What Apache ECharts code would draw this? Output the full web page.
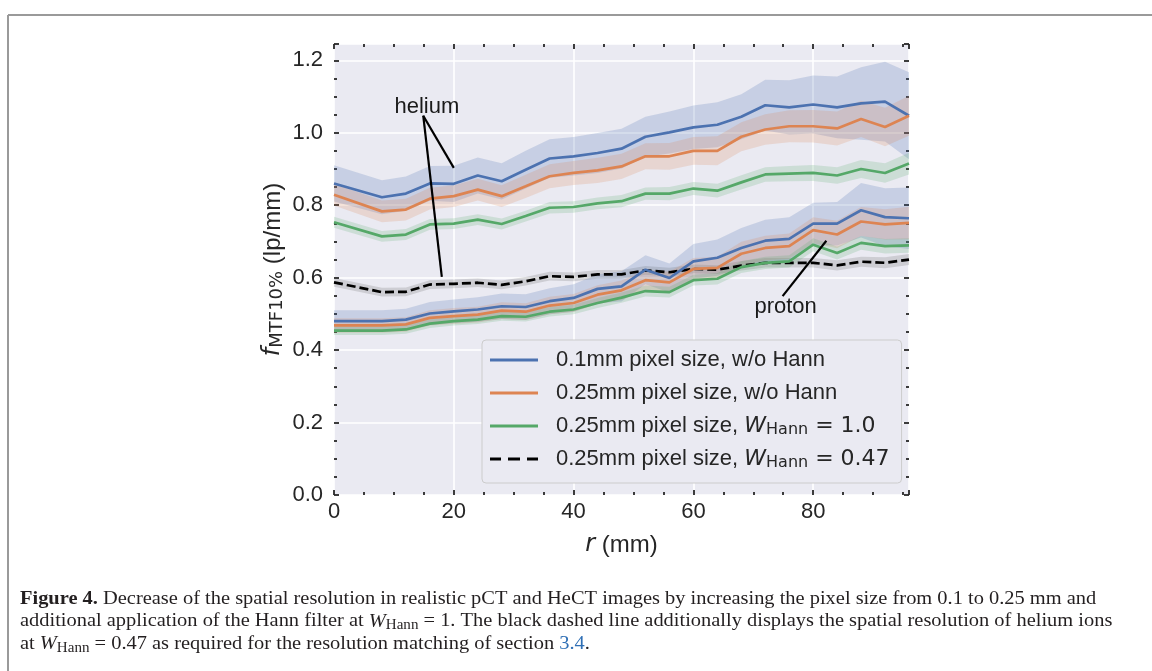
<!DOCTYPE html>
<html>
<head>
<meta charset="utf-8">
<script src="https://cdn.jsdelivr.net/npm/echarts@6/dist/echarts.min.js"></script>
<style>
  html, body { margin: 0; padding: 0; background: #fff; }
  #chart { width: 1152px; height: 671px; }
</style>
</head>
<body>
<div id="chart"></div>
<script>
// radial position (mm)
const r = [0, 8, 12, 16, 20, 24, 28, 32, 36, 40, 44, 48, 52, 56, 60, 64, 68, 72, 76, 80, 84, 88, 92, 96];

// helium
const heBlue = [0.860, 0.822, 0.832, 0.860, 0.859, 0.882, 0.866, 0.898, 0.929, 0.935, 0.944, 0.956, 0.989, 1.001, 1.015, 1.022, 1.044, 1.076, 1.070, 1.078, 1.070, 1.081, 1.086, 1.047];
const heBlueErr = [0.050, 0.047, 0.047, 0.048, 0.050, 0.050, 0.050, 0.052, 0.053, 0.053, 0.055, 0.055, 0.055, 0.058, 0.060, 0.062, 0.062, 0.070, 0.075, 0.080, 0.085, 0.100, 0.110, 0.120];
const heOrange = [0.829, 0.783, 0.788, 0.818, 0.825, 0.843, 0.825, 0.852, 0.880, 0.889, 0.896, 0.907, 0.935, 0.935, 0.950, 0.950, 0.989, 1.009, 1.018, 1.018, 1.012, 1.038, 1.016, 1.047];
const heOrangeErr = [0.030, 0.030, 0.030, 0.030, 0.030, 0.030, 0.030, 0.032, 0.033, 0.033, 0.035, 0.035, 0.036, 0.037, 0.038, 0.040, 0.040, 0.042, 0.044, 0.045, 0.047, 0.050, 0.053, 0.055];
const heGreen = [0.753, 0.714, 0.719, 0.747, 0.749, 0.760, 0.748, 0.770, 0.793, 0.795, 0.805, 0.811, 0.832, 0.832, 0.846, 0.840, 0.863, 0.885, 0.887, 0.889, 0.882, 0.900, 0.889, 0.915];
const heGreenErr = [0.015, 0.015, 0.015, 0.015, 0.015, 0.015, 0.015, 0.015, 0.016, 0.016, 0.016, 0.017, 0.017, 0.018, 0.018, 0.019, 0.020, 0.020, 0.021, 0.022, 0.023, 0.025, 0.027, 0.030];
const heHann047 = [0.587, 0.560, 0.561, 0.581, 0.583, 0.586, 0.580, 0.590, 0.604, 0.602, 0.609, 0.609, 0.620, 0.615, 0.624, 0.622, 0.633, 0.641, 0.641, 0.641, 0.634, 0.644, 0.641, 0.650];
const heHann047Err = [0.012, 0.012, 0.012, 0.012, 0.012, 0.012, 0.012, 0.012, 0.012, 0.012, 0.012, 0.012, 0.012, 0.012, 0.012, 0.012, 0.013, 0.013, 0.013, 0.013, 0.014, 0.014, 0.015, 0.015];

// proton
const pBlue = [0.480, 0.480, 0.484, 0.501, 0.507, 0.512, 0.521, 0.519, 0.535, 0.544, 0.569, 0.576, 0.622, 0.599, 0.645, 0.655, 0.682, 0.702, 0.707, 0.749, 0.749, 0.786, 0.767, 0.764];
const pBlueErr = [0.030, 0.030, 0.030, 0.032, 0.033, 0.034, 0.035, 0.035, 0.036, 0.038, 0.040, 0.042, 0.040, 0.040, 0.048, 0.050, 0.055, 0.058, 0.060, 0.058, 0.060, 0.075, 0.080, 0.085];
const pOrange = [0.468, 0.468, 0.471, 0.489, 0.494, 0.498, 0.509, 0.506, 0.523, 0.530, 0.553, 0.565, 0.593, 0.587, 0.624, 0.627, 0.666, 0.682, 0.687, 0.731, 0.719, 0.755, 0.747, 0.751];
const pOrangeErr = [0.020, 0.020, 0.020, 0.021, 0.022, 0.022, 0.023, 0.023, 0.024, 0.025, 0.026, 0.027, 0.028, 0.029, 0.030, 0.031, 0.033, 0.034, 0.035, 0.036, 0.038, 0.040, 0.042, 0.045];
const pGreen = [0.454, 0.454, 0.457, 0.473, 0.480, 0.484, 0.494, 0.492, 0.506, 0.512, 0.530, 0.545, 0.563, 0.560, 0.593, 0.597, 0.629, 0.641, 0.645, 0.691, 0.668, 0.696, 0.687, 0.689];
const pGreenErr = [0.012, 0.012, 0.012, 0.012, 0.012, 0.012, 0.013, 0.013, 0.013, 0.013, 0.014, 0.014, 0.015, 0.015, 0.015, 0.016, 0.016, 0.017, 0.017, 0.018, 0.018, 0.019, 0.020, 0.020];

const names = [
  "0.1mm pixel size, w/o Hann",
  "0.25mm pixel size, w/o Hann",
  "0.25mm pixel size, W_Hann = 1.0",
  "0.25mm pixel size, W_Hann = 0.47",
];

// annotation anchors in data coordinates
const heliumText = [15.5, 1.07];
const heliumFrom = [14.9, 1.047];
const heliumTips = [[20, 0.903], [18, 0.602]];
const protonText = [75.4, 0.52];
const protonFrom = [74.9, 0.549];
const protonTip = [82.2, 0.702];

const SANS = "'Liberation Sans', Arial, sans-serif";
const MATH = "'DejaVu Sans', sans-serif";
const SERIF = "'Liberation Serif', 'Times New Roman', serif";
const INK = "#262626";

const chart = echarts.init(document.getElementById("chart"));

function band(vals, errs, fill) {
  return {
    type: "custom",
    silent: true,
    z: 1,
    data: r.map((x, i) => [x, vals[i] - errs[i], vals[i] + errs[i]]),
    encode: { x: 0, y: [1, 2] },
    renderItem: (params, api) => {
      if (params.dataIndex !== 0) return;
      const up = r.map((x, i) => api.coord([x, vals[i] + errs[i]]));
      const lo = r.map((x, i) => api.coord([x, vals[i] - errs[i]])).reverse();
      return { type: "polygon", shape: { points: up.concat(lo) }, style: { fill: fill } };
    },
  };
}

function line(name, vals, color, dashed) {
  return {
    type: "line",
    name: name,
    data: r.map((x, i) => [x, vals[i]]),
    symbol: "none",
    z: 3,
    lineStyle: { color: color, width: 2.7, type: dashed ? [9, 4] : "solid" },
    itemStyle: { color: color },
    emphasis: { disabled: true },
  };
}

function arrow(from, to) {
  return {
    type: "line",
    data: [from, to],
    symbol: "none",
    silent: true,
    z: 5,
    lineStyle: { color: "#000", width: 2.2 },
  };
}

function note(pos, text) {
  return {
    type: "scatter",
    data: [pos],
    symbolSize: 2,
    silent: true,
    z: 6,
    itemStyle: { color: "transparent" },
    label: {
      show: true, position: "inside", formatter: text,
      fontSize: 22, color: "#1a1a1a", fontFamily: SANS,
      textBorderWidth: 0, opacity: 1,
    },
  };
}

const blue = "#4C72B0", orange = "#DD8452", green = "#55A868";

const legendLabels = {};
legendLabels[names[0]] = names[0];
legendLabels[names[1]] = names[1];
legendLabels[names[2]] = "0.25mm pixel size, {i|W}{s|Hann}{m| = 1.0}";
legendLabels[names[3]] = "0.25mm pixel size, {i|W}{s|Hann}{m| = 0.47}";

const solidIcon = "path://M0,0h48v3h-48z";
const dashIcon = "path://M0,0h11v3h-11z M18,0h12v3h-12z M37,0h11v3h-11z";

const tickStyle = { color: INK, width: 1.8 };

function frameAxis(extra) {
  return Object.assign({
    type: "value",
    axisLine: { show: false, onZero: false },
    axisTick: { show: true, inside: true, length: 5, lineStyle: tickStyle },
    minorTick: { show: true, splitNumber: 4, length: 3, lineStyle: tickStyle },
    splitLine: { show: false },
    axisLabel: { show: false },
  }, extra);
}

const option = {
  animation: false,
  grid: {
    left: 334, right: 243, top: 44, bottom: 176,
    show: true, backgroundColor: "#EAEAF2", borderWidth: 0,
  },
  xAxis: [
    frameAxis({
      min: 0, max: 96, interval: 20, position: "bottom",
      splitLine: { show: true, lineStyle: { color: "#fff", width: 1.6 } },
      axisLabel: { show: true, fontSize: 22, color: INK, fontFamily: SANS, margin: 6, showMaxLabel: false },
      name: "{i|r} (mm)",
      nameLocation: "middle",
      nameGap: 38,
      nameTextStyle: {
        fontSize: 24, color: INK, fontFamily: SANS,
        rich: { i: { fontSize: 24, fontStyle: "italic", fontFamily: MATH, color: INK } },
      },
    }),
    frameAxis({ min: 0, max: 96, interval: 20, position: "top" }),
  ],
  yAxis: [
    frameAxis({
      min: 0, max: 1.245, interval: 0.2, position: "left",
      splitLine: { show: true, lineStyle: { color: "#fff", width: 1.6 } },
      axisLabel: {
        show: true, fontSize: 22, color: INK, fontFamily: SANS, margin: 11, showMaxLabel: false,
        formatter: (v) => v.toFixed(1),
      },
      name: "{i|f}{s|MTF10%} (lp/mm)",
      nameLocation: "middle",
      nameRotate: 90,
      nameGap: 48,
      nameTextStyle: {
        fontSize: 24, color: INK, fontFamily: SANS, lineHeight: 26,
        rich: {
          i: { fontSize: 24, fontStyle: "italic", fontFamily: MATH, color: INK, lineHeight: 26 },
          s: { fontSize: 18, fontFamily: MATH, color: INK, verticalAlign: "bottom", lineHeight: 16 },
        },
      },
    }),
    frameAxis({ min: 0, max: 1.245, interval: 0.2, position: "right" }),
  ],
  legend: {
    data: [
      { name: names[0], icon: solidIcon },
      { name: names[1], icon: solidIcon },
      { name: names[2], icon: solidIcon },
      { name: names[3], icon: dashIcon },
    ],
    orient: "vertical",
    left: 482, top: 340,
    itemWidth: 48, itemHeight: 3, itemGap: 9,
    padding: [8, 12, 12, 8],
    backgroundColor: "#EAEAF2",
    borderColor: "#cccccc", borderWidth: 1, borderRadius: 4,
    selectedMode: false,
    itemStyle: { opacity: 1, borderWidth: 0 },
    formatter: (n) => legendLabels[n],
    textStyle: {
      fontSize: 22, color: INK, fontFamily: SANS, lineHeight: 24,
      padding: [0, 0, 0, 13],
      rich: {
        i: { fontSize: 22, fontStyle: "italic", fontFamily: MATH, color: INK, lineHeight: 24 },
        s: { fontSize: 16, fontFamily: MATH, color: INK, verticalAlign: "bottom", lineHeight: 14 },
        m: { fontSize: 22, fontFamily: MATH, color: INK, lineHeight: 24 },
      },
    },
  },
  graphic: [
    { type: "line", shape: { x1: 8, y1: 15, x2: 1152, y2: 15 }, style: { stroke: "#9a9a9a", lineWidth: 2 } },
    { type: "line", shape: { x1: 8, y1: 15, x2: 8, y2: 671 }, style: { stroke: "#9a9a9a", lineWidth: 2 } },
    {
      type: "group", x: 20, y: 588, scaleX: 1.075,
      children: [
        "{b|Figure 4.} Decrease of the spatial resolution in realistic pCT and HeCT images by increasing the pixel size from 0.1 to 0.25 mm and",
        "additional application of the Hann filter at {i|W}{s|Hann} = 1. The black dashed line additionally displays the spatial resolution of helium ions",
        "at {i|W}{s|Hann} = 0.47 as required for the resolution matching of section {a|3.4}.",
      ].map((t, k) => ({
        type: "text", x: 0, y: k * 22.5,
        style: {
          text: t, fill: "#231f20", fontFamily: SERIF, fontSize: 19, lineHeight: 22,
          rich: {
            b: { fontWeight: "bold", fontFamily: SERIF, fontSize: 19, fill: "#231f20", lineHeight: 22 },
            i: { fontStyle: "italic", fontFamily: SERIF, fontSize: 19, fill: "#231f20", lineHeight: 22 },
            s: { fontFamily: SERIF, fontSize: 14, fill: "#231f20", verticalAlign: "bottom", lineHeight: 14 },
            a: { fontFamily: SERIF, fontSize: 19, fill: "#2f6fb5", lineHeight: 22 },
          },
        },
      })),
    },
  ],
  series: [
    band(heBlue, heBlueErr, "rgba(76,114,176,0.22)"),
    band(heOrange, heOrangeErr, "rgba(221,132,82,0.2)"),
    band(heGreen, heGreenErr, "rgba(85,168,104,0.2)"),
    band(heHann047, heHann047Err, "rgba(90,90,90,0.2)"),
    band(pBlue, pBlueErr, "rgba(76,114,176,0.22)"),
    band(pOrange, pOrangeErr, "rgba(221,132,82,0.2)"),
    band(pGreen, pGreenErr, "rgba(85,168,104,0.2)"),
    line(names[0], heBlue, blue),
    line(names[1], heOrange, orange),
    line(names[2], heGreen, green),
    line(names[3], heHann047, "#000", true),
    line(names[0], pBlue, blue),
    line(names[1], pOrange, orange),
    line(names[2], pGreen, green),
    arrow(heliumFrom, heliumTips[0]),
    arrow(heliumFrom, heliumTips[1]),
    arrow(protonFrom, protonTip),
    note(heliumText, "helium"),
    note(protonText, "proton"),
  ],
};

chart.setOption(option);
</script>
</body>
</html>
